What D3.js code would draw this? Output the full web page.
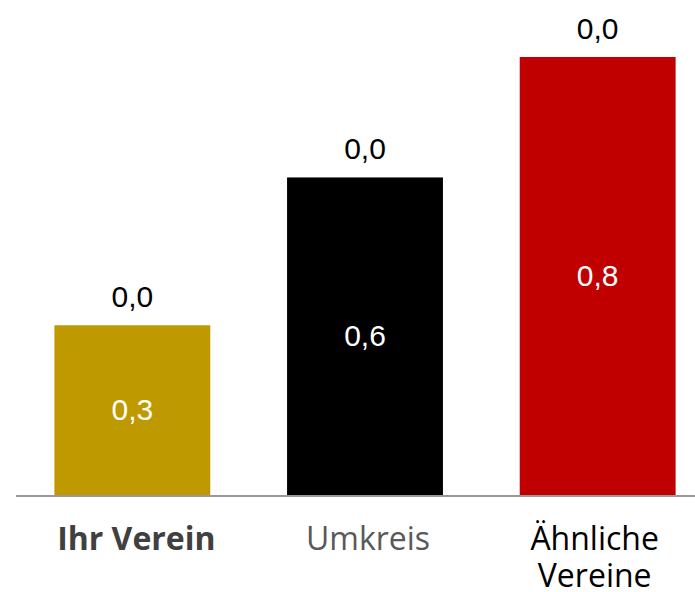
<!DOCTYPE html>
<html>
<head>
<meta charset="utf-8">
<script src="https://cdn.jsdelivr.net/npm/d3@7"></script>
<style>
  body { margin: 0; background: #fff; }
</style>
</head>
<body>
<svg id="chart" width="695" height="592"></svg>
<script>
// chart values
var categories = ["Ihr Verein", "Umkreis", "Ähnliche Vereine"];
var values = [0.31, 0.58, 0.80];
var topValues = [0.0, 0.0, 0.0];
var barColors = ["#BF9900", "#000000", "#C00000"];

var svg = d3.select("#chart");
var baseY = 495;

var x = d3.scaleBand()
        .domain(categories)
        .range([16, 714])
        .paddingInner(0.33)
        .paddingOuter(0.165);

var y = d3.scaleLinear()
        .domain([0, 0.8])
        .range([baseY, 57]);

var fmt = function (v) { return d3.format(".1f")(v).replace(".", ","); };

var bars = svg.append("g").attr("class", "bars");

bars.selectAll("rect")
        .data(categories)
        .enter().append("rect")
                .attr("x", (d) => x(d))
                .attr("y", (d, i) => y(values[i]))
                .attr("width", x.bandwidth())
                .attr("height", (d, i) => baseY - y(values[i]))
                .attr("fill", (d, i) => barColors[i]);

// value labels inside bars
bars.selectAll("text.inner")
        .data(categories)
        .enter().append("text")
                .attr("class", "inner")
                .attr("x", (d) => x(d) + x.bandwidth() / 2)
                .attr("y", (d, i) => (y(values[i]) + baseY) / 2 + 2)
                .attr("text-anchor", "middle")
                .attr("dominant-baseline", "middle")
                .style("font-family", "'Liberation Sans', Arial, sans-serif")
                .style("font-size", "30px")
                .style("fill", "#fff")
                .text((d, i) => fmt(values[i]));

// labels above bars
bars.selectAll("text.top")
        .data(categories)
        .enter().append("text")
                .attr("class", "top")
                .attr("x", (d) => x(d) + x.bandwidth() / 2)
                .attr("y", (d, i) => y(values[i] + topValues[i]) - 18)
                .attr("text-anchor", "middle")
                .style("font-family", "'Liberation Sans', Arial, sans-serif")
                .style("font-size", "30px")
                .style("fill", "#000")
                .text((d, i) => fmt(topValues[i]));

// axis line
svg.append("line")
        .attr("x1", 16)
        .attr("x2", 695)
        .attr("y1", baseY + 1)
        .attr("y2", baseY + 1)
        .style("stroke", "#999")
        .style("stroke-width", 2);

// category labels
var labelStyles = [
    {weight: "bold", color: "#404040"},
    {weight: "normal", color: "#595959"},
    {weight: "normal", color: "#000000"}
];

var labels = svg.append("g").attr("class", "labels");

categories.forEach(function (c, i) {
    var words = c === "Ähnliche Vereine" ? ["Ähnliche", "Vereine"] : [c];
    var t = labels.append("text")
            .attr("text-anchor", "middle")
            .attr("transform", "translate(" + (x(c) + x.bandwidth() / 2 + (i === 0 ? 4 : i === 2 ? -3 : 3)) + "," + 550 + ")")
            .style("font-family", "'Open Sans', sans-serif")
            .style("font-size", "32px")
            .style("font-weight", labelStyles[i].weight)
            .style("fill", labelStyles[i].color);
    words.forEach(function (w, j) {
        t.append("tspan")
                .attr("x", 0)
                .attr("dy", j === 0 ? 0 : 37)
                .text(w);
    });
});
</script>
</body>
</html>
